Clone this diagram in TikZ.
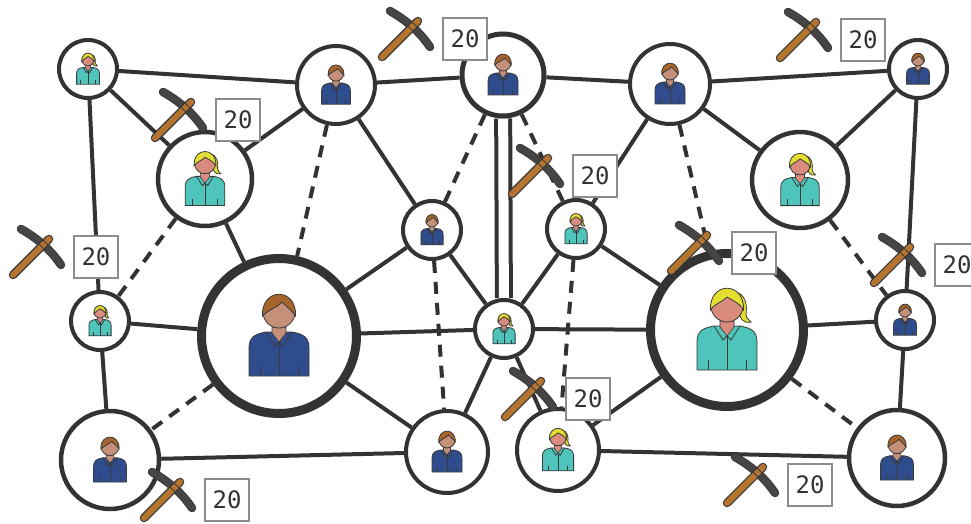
\documentclass[tikz,border=0pt]{standalone}
\usepackage{fontspec}
\newfontfamily\numfont{DejaVu Sans Mono}
\usetikzlibrary{backgrounds}

\definecolor{edgec}{HTML}{333333}
\definecolor{iconline}{HTML}{3A3A3A}
\definecolor{shirtM}{HTML}{2F4C8C}
\definecolor{shirtF}{HTML}{4EC4BB}
\definecolor{skinM}{HTML}{C4907A}
\definecolor{skinF}{HTML}{D98B7E}
\definecolor{hairM}{HTML}{A6652C}
\definecolor{hairF}{HTML}{E4DE32}
\definecolor{wood}{HTML}{B5742F}
\definecolor{ironc}{HTML}{454545}
\definecolor{boxline}{HTML}{8C8C8C}

% upper body shared by both figures
\newcommand\drawtorso[2]{%
  \filldraw[fill=#1, draw=iconline, line width=0.8pt]
    (-30,40) -- (-30,12) .. controls (-30,1) and (-24,-2) .. (-13,-4) -- (13,-4)
    .. controls (24,-2) and (30,1) .. (30,12) -- (30,40) -- cycle;
  \filldraw[fill=#2, draw=iconline, line width=0.6pt]
    (-7,-9) -- (7,-9) -- (7,-3) -- (0,6) -- (-7,-3) -- cycle;
  \draw[iconline, line width=0.8pt] (-13,-4) -- (-4,10) -- (0,6) -- (4,10) -- (13,-4);
  \draw[iconline, line width=0.8pt] (0,6) -- (0,40) (-19,30) -- (-19,40) (19,30) -- (19,40);
}

\tikzset{
  person/.style={circle, draw=edgec, fill=white, inner sep=0pt, line width=4pt},
  bigperson/.style={person, line width=9pt},
  link/.style={draw=edgec, line width=4pt},
  weak/.style={link, dash pattern=on 12pt off 9pt},
  twin/.style={draw=edgec, line width=4pt, double=white, double distance=10pt},
  numbox/.style={draw=boxline, fill=white, line width=1.3pt, minimum width=44pt,
    minimum height=42pt, inner sep=0pt, text=edgec, font=\numfont\fontsize{24}{24}\selectfont},
  male/.pic={
    \drawtorso{shirtM}{skinM}
    \filldraw[fill=skinM, draw=iconline, line width=0.8pt] (0,-24) circle[radius=16];
    \filldraw[fill=hairM, draw=iconline, line width=0.8pt]
      (-16.5,-20) .. controls (-18,-49) and (18,-49) .. (16.5,-20)
      .. controls (12,-27) and (6,-30) .. (3,-34)
      .. controls (-2,-28) and (-10,-27) .. (-16.5,-20) -- cycle;
  },
  female/.pic={
    \filldraw[fill=hairF, draw=iconline, line width=0.8pt]
      (6,-38) .. controls (20,-38) and (20,-22) .. (19,-16)
      .. controls (19,-12) and (22,-10) .. (24,-8)
      .. controls (16,-6) and (12,-12) .. (12,-20) -- cycle;
    \drawtorso{shirtF}{skinF}
    \filldraw[fill=skinF, draw=iconline, line width=0.8pt] (0,-24) circle[radius=16];
    \filldraw[fill=hairF, draw=iconline, line width=0.8pt]
      (-16.5,-20) .. controls (-18,-49) and (18,-49) .. (16.5,-20)
      .. controls (12,-28) and (4,-30) .. (0,-33)
      .. controls (-4,-28) and (-12,-27) .. (-16.5,-20) -- cycle;
  },
  pickaxe/.pic={
    \draw[iconline, line width=8.5pt, line cap=round] (-22,-15) .. controls (-6,-6) and (8,6) .. (18,21);
    \draw[ironc, line width=6.5pt, line cap=round] (-22,-15) .. controls (-6,-6) and (8,6) .. (18,21);
    \draw[iconline, line width=8.5pt, line cap=round] (-30,31) -- (6,-5);
    \draw[wood, line width=6pt, line cap=round] (-30,31) -- (6,-5);
    \draw[iconline, line width=0.8pt] (-5,-1) -- (1,5) (-1,-5) -- (5,1);
  },
}

\begin{document}
\begin{tikzpicture}[x=1pt, y=-1pt]
\useasboundingbox (0,0) rectangle (971,524);

% people
\node[person, minimum size=58pt] (A) at (88,69) {};
\node[person, minimum size=78pt] (B) at (336,85) {};
\node[person, line width=5pt, minimum size=82pt] (C) at (503,75) {};
\node[person, minimum size=80pt] (D) at (670,84) {};
\node[person, minimum size=58pt] (E) at (918,69) {};
\node[person, line width=4.5pt, minimum size=94pt] (F) at (205,179) {};
\node[person, line width=4.5pt, minimum size=96pt] (G) at (800,180) {};
\node[person, minimum size=58pt] (H) at (432,230) {};
\node[person, minimum size=58pt] (I) at (576,229) {};
\node[person, minimum size=58pt] (J) at (100,321) {};
\node[bigperson, minimum size=155pt] (K) at (279,336) {};
\node[person, minimum size=58pt] (L) at (504,329) {};
\node[bigperson, minimum size=153pt] (M) at (727,330) {};
\node[person, minimum size=58pt] (N) at (905,320) {};
\node[person, line width=4.5pt, minimum size=98pt] (O) at (110,460) {};
\node[person, minimum size=82pt] (P) at (447,452) {};
\node[person, minimum size=82pt] (Q) at (558,450) {};
\node[person, line width=4.5pt, minimum size=96pt] (R) at (897,458) {};

% connections
\begin{pgfonlayer}{background}
  \draw[link] (A) -- (B);
  \draw[link] (A) -- (F);
  \draw[link] (A) -- (J);
  \draw[link] (B) -- (C);
  \draw[link] (B) -- (F);
  \draw[link] (B) -- (H);
  \draw[weak] (B) -- (K);
  \draw[link] (C) -- (D);
  \draw[twin] (C) -- (L);
  \draw[weak] (C) -- (H);
  \draw[weak] (C) -- (I);
  \draw[link] (D) -- (E);
  \draw[link] (D) -- (G);
  \draw[link] (D) -- (I);
  \draw[weak] (D) -- (M);
  \draw[link] (E) -- (G);
  \draw[link] (E) -- (N);
  \draw[link] (F) -- (K);
  \draw[weak] (F) -- (J);
  \draw[weak] (G) -- (N);
  \draw[link] (H) -- (K);
  \draw[link] (H) -- (L);
  \draw[weak] (H) -- (P);
  \draw[link] (I) -- (L);
  \draw[link] (I) -- (M);
  \draw[weak] (I) -- (Q);
  \draw[link] (J) -- (K);
  \draw[link] (J) -- (O);
  \draw[link] (K) -- (L);
  \draw[link] (K) -- (P);
  \draw[weak] (K) -- (O);
  \draw[link] (L) -- (M);
  \draw[link] (L) -- (P);
  \draw[link] (L) -- (Q);
  \draw[link] (M) -- (N);
  \draw[link] (M) -- (Q);
  \draw[weak] (M) -- (R);
  \draw[link] (N) -- (R);
  \draw[link] (O) -- (P);
  \draw[link] (Q) -- (R);
\end{pgfonlayer}

% figures inside the circles
\pic[scale=0.38] at (A) {female};
\pic[scale=0.48] at (B) {male};
\pic[scale=0.50] at (C) {male};
\pic[scale=0.50] at (D) {male};
\pic[scale=0.38] at (E) {male};
\pic[scale=0.66] at (F) {female};
\pic[scale=0.64] at (G) {female};
\pic[scale=0.37] at (H) {male};
\pic[scale=0.37] at (I) {female};
\pic[scale=0.37] at (J) {female};
\pic[scale=1.0] at (K) {male};
\pic[scale=1.0] at (M) {female};
\pic[scale=0.37] at (L) {female};
\pic[scale=0.38] at (N) {male};
\pic[scale=0.55] at (O) {male};
\pic[scale=0.50] at (P) {male};
\pic[scale=0.52] at (Q) {female};
\pic[scale=0.55] at (R) {male};

% mining rewards
\node[numbox] (t1) at (465,39) {20};
\node[numbox] (t2) at (238,120) {20};
\node[numbox] (t3) at (96,257) {20};
\node[numbox] (t4) at (595,176) {20};
\node[numbox] (t5) at (863,40) {20};
\node[numbox] (t6) at (754,253) {20};
\node[numbox] (t7) at (957,265) {20};
\node[numbox] (t8) at (588,399) {20};
\node[numbox] (t9) at (227,500) {20};
\node[numbox] (t10) at (810,485) {20};

\foreach \t in {t1,t2,t3,t4,t5,t6,t7,t8,t9,t10}
  \pic at ([shift={(-53,-13)}]\t.center) {pickaxe};
\end{tikzpicture}
\end{document}
